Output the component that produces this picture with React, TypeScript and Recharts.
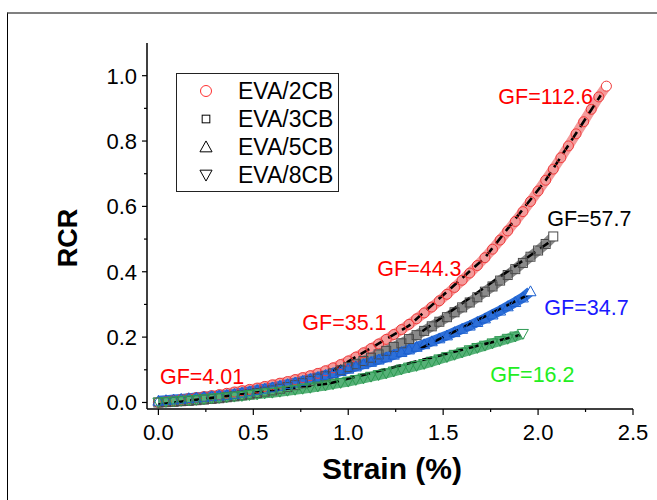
import React from "react";
import {
  ComposedChart,
  Line,
  XAxis,
  YAxis,
  ReferenceDot,
} from "recharts";

const FONT = "Arial, 'Liberation Sans', Helvetica, sans-serif";

// strain grid (%) shared by all four samples
const strain = [
  0, 0.04, 0.08, 0.12, 0.16, 0.2, 0.24, 0.28, 0.32, 0.36,
  0.4, 0.44, 0.48, 0.52, 0.56, 0.6, 0.64, 0.68, 0.72, 0.76,
  0.8, 0.84, 0.88, 0.92, 0.96, 1.0, 1.04, 1.08, 1.12, 1.16,
  1.2, 1.24, 1.28, 1.32, 1.36, 1.4, 1.44, 1.48, 1.52, 1.56,
  1.6, 1.64, 1.68, 1.72, 1.76, 1.8, 1.84, 1.88, 1.92, 1.96,
  2.0, 2.04, 2.08, 2.12, 2.16, 2.2, 2.24, 2.28, 2.32, 2.36,
];

const rcr2CB = [
  0.0, 0.003, 0.006, 0.009, 0.012, 0.015, 0.018, 0.021, 0.024, 0.028,
  0.032, 0.036, 0.04, 0.044, 0.049, 0.054, 0.059, 0.064, 0.07, 0.076,
  0.082, 0.089, 0.097, 0.106, 0.116, 0.127, 0.139, 0.152, 0.165, 0.179,
  0.193, 0.208, 0.223, 0.239, 0.256, 0.274, 0.292, 0.311, 0.331, 0.352,
  0.374, 0.396, 0.419, 0.443, 0.469, 0.497, 0.525, 0.554, 0.584, 0.615,
  0.647, 0.68, 0.714, 0.749, 0.785, 0.822, 0.859, 0.897, 0.935, 0.968,
];

const rcr3CB = [
  0.0, 0.001, 0.002, 0.004, 0.005, 0.007, 0.009, 0.011, 0.013, 0.016,
  0.019, 0.022, 0.025, 0.029, 0.033, 0.037, 0.042, 0.047, 0.053, 0.059,
  0.066, 0.073, 0.08, 0.089, 0.098, 0.108, 0.117, 0.127, 0.137, 0.147,
  0.158, 0.17, 0.181, 0.194, 0.206, 0.219, 0.233, 0.247, 0.261, 0.276,
  0.291, 0.306, 0.322, 0.339, 0.355, 0.373, 0.39, 0.408, 0.427, 0.446,
  0.465, 0.485, 0.508,
];

const rcr5CB = [
  0.005, 0.007, 0.009, 0.011, 0.013, 0.015, 0.017, 0.019, 0.021, 0.023,
  0.026, 0.03, 0.034, 0.038, 0.042, 0.046, 0.051, 0.056, 0.061, 0.066,
  0.072, 0.078, 0.084, 0.09, 0.096, 0.103, 0.11, 0.117, 0.124, 0.131,
  0.138, 0.146, 0.154, 0.162, 0.17, 0.178, 0.187, 0.196, 0.205, 0.215,
  0.225, 0.235, 0.246, 0.257, 0.269, 0.281, 0.294, 0.307, 0.321, 0.34,
];

const rcr8CB = [
  0.0, 0.002, 0.003, 0.005, 0.006, 0.008, 0.01, 0.012, 0.014, 0.016,
  0.018, 0.02, 0.023, 0.025, 0.028, 0.03, 0.033, 0.036, 0.039, 0.042,
  0.045, 0.049, 0.052, 0.056, 0.06, 0.064, 0.069, 0.074, 0.079, 0.084,
  0.089, 0.095, 0.101, 0.107, 0.112, 0.118, 0.125, 0.132, 0.139, 0.146,
  0.153, 0.16, 0.167, 0.174, 0.181, 0.188, 0.195, 0.202, 0.21,
];

// linear fit segments (dashed)
const fitLowA = [{ x: 0, y: -0.006 }, { x: 0.9, y: 0.058 }];
const fitLowB = [{ x: 0.9, y: 0.058 }, { x: 1.91, y: 0.207 }];
const fitRed = [
  { x: 0.92, y: 0.098 },
  { x: 1.32, y: 0.235 },
  { x: 1.72, y: 0.443 },
  { x: 2.04, y: 0.68 },
  { x: 2.33, y: 0.94 },
];
const fitGray = [{ x: 1.39, y: 0.218 }, { x: 2.07, y: 0.495 }];
const fitBlue = [{ x: 1.38, y: 0.165 }, { x: 1.95, y: 0.33 }];

// gauge factor annotations
const gfLabels = [
  { text: "GF=4.01", x: 0.23, y: 0.078, color: "#ff0000" },
  { text: "GF=35.1", x: 0.98, y: 0.245, color: "#ff0000" },
  { text: "GF=44.3", x: 1.375, y: 0.41, color: "#ff0000" },
  { text: "GF=112.6", x: 2.04, y: 0.935, color: "#ff0000" },
  { text: "GF=57.7", x: 2.27, y: 0.563, color: "#000000" },
  { text: "GF=34.7", x: 2.255, y: 0.29, color: "#1a1aff" },
  { text: "GF=16.2", x: 1.97, y: 0.085, color: "#22ee22" },
];

const xMajor = [0, 0.5, 1.0, 1.5, 2.0, 2.5];
const xTicks = [0, 0.25, 0.5, 0.75, 1.0, 1.25, 1.5, 1.75, 2.0, 2.25, 2.5];
const yMajor = [0, 0.2, 0.4, 0.6, 0.8, 1.0];
const yTicks = [0, 0.1, 0.2, 0.3, 0.4, 0.5, 0.6, 0.7, 0.8, 0.9, 1.0];

const toPoints = (ys: number[]) => ys.map((y, i) => ({ x: strain[i], y }));

const series = [
  { name: "EVA/2CB", data: toPoints(rcr2CB), band: "#f49a9a", edge: "#f03a3a", shape: "circle" },
  { name: "EVA/3CB", data: toPoints(rcr3CB), band: "#8a8a8a", edge: "#4a4a4a", shape: "square" },
  { name: "EVA/5CB", data: toPoints(rcr5CB), band: "#2d6fd8", edge: "#1b5fcf", shape: "triangle" },
  { name: "EVA/8CB", data: toPoints(rcr8CB), band: "#55b177", edge: "#2e9a52", shape: "triangleDown" },
];

function Marker({ kind, cx, cy, stroke, fill, s = 1 }: any) {
  if (kind === "circle") return <circle cx={cx} cy={cy} r={5 * s} fill={fill} stroke={stroke} strokeWidth={1} />;
  if (kind === "square")
    return <rect x={cx - 4.5 * s} y={cy - 4.5 * s} width={9 * s} height={9 * s} fill={fill} stroke={stroke} strokeWidth={1} />;
  const h = 5.5 * s;
  const pts =
    kind === "triangle"
      ? `${cx},${cy - h} ${cx + h},${cy + h * 0.8} ${cx - h},${cy + h * 0.8}`
      : `${cx},${cy + h} ${cx + h},${cy - h * 0.8} ${cx - h},${cy - h * 0.8}`;
  return <polygon points={pts} fill={fill} stroke={stroke} strokeWidth={1} />;
}

const makeDot = (kind: string, stroke: string, n: number) => (p: any) => {
  const last = p.index === n - 1;
  return (
    <Marker
      key={`d-${kind}-${p.index}`}
      kind={kind}
      cx={p.cx}
      cy={p.cy}
      stroke={stroke}
      fill={last ? "#ffffff" : "none"}
    />
  );
};

function XTick(props: any) {
  const { x, y, payload } = props;
  const v = payload.value;
  const major = xMajor.includes(v);
  return (
    <g>
      <line x1={x} x2={x} y1={y} y2={y + (major ? 6 : 3)} stroke="#000" strokeWidth={1.2} />
      {major && (
        <text x={x} y={y + 31} textAnchor="middle" fontSize={22} fontFamily={FONT} fill="#000">
          {v.toFixed(1)}
        </text>
      )}
    </g>
  );
}

function YTick(props: any) {
  const { x, y, payload } = props;
  const v = payload.value;
  const major = yMajor.includes(v);
  return (
    <g>
      <line x1={x} x2={x - (major ? 5 : 3)} y1={y} y2={y} stroke="#000" strokeWidth={1.2} />
      {major && (
        <text x={x - 10} y={y + 8} textAnchor="end" fontSize={22} fontFamily={FONT} fill="#000">
          {v.toFixed(1)}
        </text>
      )}
    </g>
  );
}

export default function App() {
  const legendRows = series.map((s, i) => ({ ...s, cy: 91 + i * 28 }));
  return (
    <div style={{ position: "absolute", left: 0, top: 0, width: 657, height: 500, overflow: "hidden", background: "#fff" }}>
      {/* figure frame */}
      <div
        style={{
          position: "absolute",
          left: 7,
          top: 12,
          width: 700,
          height: 520,
          borderTop: "2px solid #808080",
          borderLeft: "1px solid #000",
        }}
      />
      <ComposedChart width={657} height={500} margin={{ top: 43, right: 24, bottom: 61, left: 87 }}>
        <XAxis
          xAxisId={0}
          type="number"
          dataKey="x"
          domain={[-0.06, 2.5]}
          allowDataOverflow
          ticks={xTicks}
          interval={0}
          tick={<XTick />}
          tickLine={false}
          tickSize={0}
          tickMargin={0}
          height={30}
          axisLine={{ stroke: "#000", strokeWidth: 1.5 }}
        />
        <XAxis
          xAxisId="top"
          orientation="top"
          type="number"
          dataKey="x"
          domain={[-0.06, 2.5]}
          allowDataOverflow
          tick={false}
          tickLine={false}
          height={0}
          axisLine={{ stroke: "#000", strokeWidth: 1.5 }}
        />
        <YAxis
          yAxisId={0}
          type="number"
          dataKey="y"
          domain={[-0.02, 1.1]}
          allowDataOverflow
          ticks={yTicks}
          interval={0}
          tick={<YTick />}
          tickLine={false}
          tickSize={0}
          tickMargin={0}
          width={60}
          axisLine={{ stroke: "#000", strokeWidth: 1.5 }}
        />
        <YAxis
          yAxisId="right"
          orientation="right"
          type="number"
          domain={[-0.02, 1.1]}
          allowDataOverflow
          tick={false}
          tickLine={false}
          width={0}
          axisLine={{ stroke: "#000", strokeWidth: 1.5 }}
        />

        {series.map((s) => (
          <Line
            key={s.name}
            data={s.data}
            dataKey="y"
            type="linear"
            stroke={s.band}
            strokeWidth={10}
            strokeLinecap="butt"
            dot={makeDot(s.shape, s.edge, s.data.length)}
            activeDot={false}
            isAnimationActive={false}
            legendType="none"
          />
        ))}

        {[fitLowA, fitLowB, fitRed, fitGray, fitBlue].map((d, i) => (
          <Line
            key={`fit-${i}`}
            data={d}
            dataKey="y"
            type="linear"
            stroke="#000"
            strokeWidth={2.6}
            strokeDasharray="10 6"
            dot={false}
            activeDot={false}
            isAnimationActive={false}
          />
        ))}

        {gfLabels.map((g) => (
          <ReferenceDot
            key={g.text}
            x={g.x}
            y={g.y}
            r={0}
            shape={(p: any) => (
              <text
                x={p.cx}
                y={p.cy + 7.5}
                textAnchor="middle"
                fontSize={21.5}
                fontFamily={FONT}
                fill={g.color}
              >
                {g.text}
              </text>
            )}
          />
        ))}
      </ComposedChart>

      {/* legend and axis titles */}
      <svg width={657} height={500} style={{ position: "absolute", left: 0, top: 0, pointerEvents: "none" }}>
        <rect x={176.5} y={73.5} width={162} height={118} fill="#fff" stroke="#222" strokeWidth={1} />
        {legendRows.map((r) => (
          <g key={r.name}>
            <Marker
              kind={r.shape}
              cx={206}
              cy={r.cy}
              stroke={r.shape === "circle" ? "#ff3030" : "#000"}
              fill="#fff"
              s={r.shape === "square" ? 0.85 : 1.1}
            />
            <text x={238} y={r.cy + 8} fontSize={23} fontFamily={FONT} fill="#000">
              {r.name}
            </text>
          </g>
        ))}
        <text x={392} y={479} textAnchor="middle" fontSize={30} fontWeight="bold" fontFamily={FONT} fill="#000">
          Strain (%)
        </text>
        <text
          transform="translate(77,238) rotate(-90)"
          textAnchor="middle"
          fontSize={27}
          fontWeight="bold"
          fontFamily={FONT}
          fill="#000"
        >
          RCR
        </text>
      </svg>
    </div>
  );
}
